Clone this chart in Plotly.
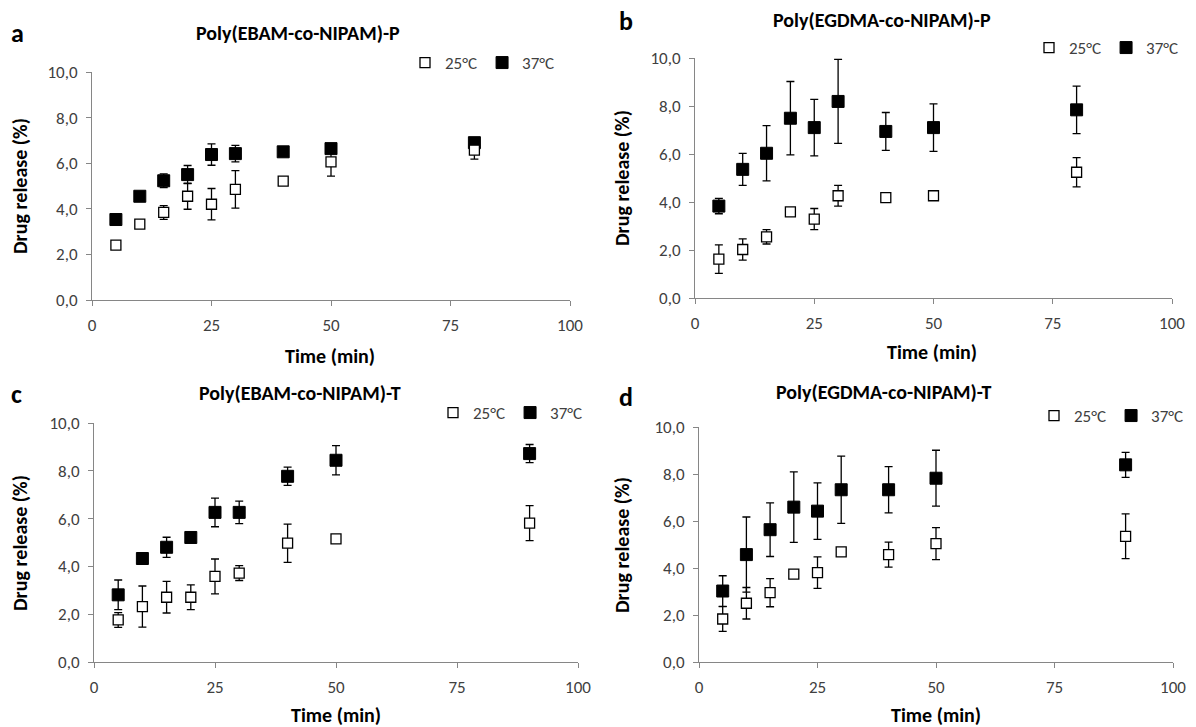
import plotly.graph_objects as go

W, H = 1196, 727

# ---------------- data ----------------
time_a = [5, 10, 15, 20, 25, 30, 40, 50, 80]
a25 = [2.41, 3.33, 3.84, 4.55, 4.20, 4.85, 5.21, 6.06, 6.57]
a25_err = [0.10, 0.10, 0.30, 0.57, 0.69, 0.82, 0.12, 0.63, 0.39]
a37 = [3.53, 4.55, 5.23, 5.50, 6.38, 6.42, 6.50, 6.64, 6.90]
a37_err = [0.05, 0.05, 0.30, 0.40, 0.47, 0.36, 0.10, 0.15, 0.20]

time_b = [5, 10, 15, 20, 25, 30, 40, 50, 80]
b25 = [1.62, 2.02, 2.55, 3.59, 3.29, 4.26, 4.18, 4.26, 5.24]
b25_err = [0.59, 0.44, 0.30, 0.10, 0.44, 0.43, 0.10, 0.10, 0.61]
b37 = [3.83, 5.36, 6.03, 7.49, 7.10, 8.19, 6.94, 7.10, 7.84]
b37_err = [0.32, 0.67, 1.15, 1.53, 1.18, 1.75, 0.79, 0.99, 0.99]

time_c = [5, 10, 15, 20, 25, 30, 40, 50, 90]
c25 = [1.76, 2.32, 2.71, 2.71, 3.58, 3.72, 4.97, 5.15, 5.81]
c25_err = [0.31, 0.86, 0.66, 0.52, 0.73, 0.31, 0.80, 0.10, 0.73]
c37 = [2.81, 4.33, 4.80, 5.21, 6.26, 6.26, 7.77, 8.44, 8.72]
c37_err = [0.62, 0.10, 0.42, 0.15, 0.60, 0.47, 0.38, 0.61, 0.38]

time_d = [5, 10, 15, 20, 25, 30, 40, 50, 90]
d25 = [1.83, 2.50, 2.95, 3.74, 3.80, 4.69, 4.57, 5.04, 5.35]
d25_err = [0.53, 0.67, 0.60, 0.10, 0.67, 0.15, 0.53, 0.68, 0.95]
d37 = [3.02, 4.57, 5.63, 6.59, 6.42, 7.33, 7.33, 7.82, 8.39]
d37_err = [0.65, 1.60, 1.14, 1.50, 1.20, 1.43, 0.98, 1.19, 0.53]

panel_letters = ["a", "b", "c", "d"]
panel_titles = ["Poly(EBAM-co-NIPAM)-P", "Poly(EGDMA-co-NIPAM)-P",
                "Poly(EBAM-co-NIPAM)-T", "Poly(EGDMA-co-NIPAM)-T"]
series_names = ["25°C", "37°C"]
x_title = "Time (min)"
y_title = "Drug release (%)"
x_ticks = [0, 25, 50, 75, 100]
y_ticks = [0, 2, 4, 6, 8, 10]

# ---------------- layout helpers ----------------
FONT = "Carlito, Lato, 'Liberation Sans', sans-serif"
TICK_COL = "#404040"
AX_COL = "#868686"


def px_x(p):
    return p / W


def px_y(p):
    return 1 - p / H


# plot-area pixel boxes: (x0, x1, y_bottom, y_top)
boxes = [(92, 570, 300, 72), (695, 1172, 298, 58),
         (94, 578, 662, 423), (699, 1173, 662, 427)]

panels = [
    (time_a, a25, a25_err, a37, a37_err),
    (time_b, b25, b25_err, b37, b37_err),
    (time_c, c25, c25_err, c37, c37_err),
    (time_d, d25, d25_err, d37, d37_err),
]

fig = go.Figure()
legend_names = ["legend", "legend2", "legend3", "legend4"]

for i, (t, v25, e25, v37, e37) in enumerate(panels):
    ax = "" if i == 0 else str(i + 1)
    lg = legend_names[i]
    # 37 °C (filled) drawn first so that open markers sit on top
    fig.add_trace(go.Scatter(
        x=t, y=v37, mode="markers", name=series_names[1],
        xaxis="x" + ax, yaxis="y" + ax, legend=lg, legendrank=2,
        marker=dict(symbol="square", size=12, color="black",
                    line=dict(color="black", width=1)),
        error_y=dict(type="data", array=e37, color="black", thickness=1.3, width=4),
    ))
    fig.add_trace(go.Scatter(
        x=t, y=v25, mode="markers", name=series_names[0],
        xaxis="x" + ax, yaxis="y" + ax, legend=lg, legendrank=1,
        marker=dict(symbol="square", size=10, color="white",
                    line=dict(color="black", width=1.3)),
        error_y=dict(type="data", array=e25, color="black", thickness=1.3, width=4),
    ))

layout = dict(
    template="none",
    width=W, height=H, margin=dict(l=0, r=0, t=0, b=0, autoexpand=False),
    paper_bgcolor="white", plot_bgcolor="white",
    separators=", ",
    font=dict(family=FONT, size=16, color=TICK_COL),
    showlegend=True,
)

legend_pos = [(560, 63), (1184, 48), (588, 413), (1189, 416)]

for i, (x0, x1, yb, yt) in enumerate(boxes):
    ax = "" if i == 0 else str(i + 1)
    layout["xaxis" + ax] = dict(
        domain=[px_x(x0), px_x(x1)], range=[0, 100], anchor="y" + ax,
        tickvals=x_ticks, showline=True, linecolor=AX_COL, linewidth=1,
        ticks="outside", tickcolor=AX_COL, ticklen=5, showgrid=False,
        zeroline=False, automargin=False,
        tickfont=dict(size=17, color=TICK_COL, family=FONT),
        ticklabelstandoff=5,
    )
    layout["yaxis" + ax] = dict(
        domain=[px_y(yb), px_y(yt)], range=[0, 10], anchor="x" + ax,
        tickvals=y_ticks, tickformat=".1f", showline=True, linecolor=AX_COL,
        linewidth=1, ticks="outside", tickcolor=AX_COL, ticklen=5,
        showgrid=False, zeroline=False, automargin=False,
        tickfont=dict(size=17, color=TICK_COL, family=FONT),
        ticklabelstandoff=5,
    )
    lx, ly = legend_pos[i]
    layout[legend_names[i]] = dict(
        orientation="h", x=px_x(lx), y=px_y(ly), xanchor="right", yanchor="middle",
        bgcolor="rgba(0,0,0,0)", font=dict(size=17, color=TICK_COL, family=FONT),
        itemwidth=30, tracegroupgap=0,
    )

fig.update_layout(**layout)

# ---------------- text annotations ----------------
letter_pos = [(17, 33), (626, 21), (16, 394), (626, 397)]
title_pos = [(298, 33), (882, 20), (300, 393), (884, 392)]
xt_pos = [(330, 356), (932, 352), (336, 715), (936, 715)]
yt_pos = [(20, 186), (622, 178), (20, 543), (622, 545)]


def text_ann(txt, pos, size, angle=0):
    return dict(text=txt, x=px_x(pos[0]), y=px_y(pos[1]), xref="paper",
                yref="paper", xanchor="center", yanchor="middle",
                showarrow=False, textangle=angle,
                font=dict(size=size, color="black", family=FONT))


ann = []
for i in range(4):
    ann.append(text_ann("<b>%s</b>" % panel_letters[i], letter_pos[i], 26))
    ann.append(text_ann("<b>%s</b>" % panel_titles[i], title_pos[i], 20))
    ann.append(text_ann("<b>%s</b>" % x_title, xt_pos[i], 20))
    ann.append(text_ann("<b>%s</b>" % y_title, yt_pos[i], 20, -90))

fig.update_layout(annotations=ann)
fig.write_html("out.html", config={"displayModeBar": False},
               post_script="document.body.style.margin='0';")
